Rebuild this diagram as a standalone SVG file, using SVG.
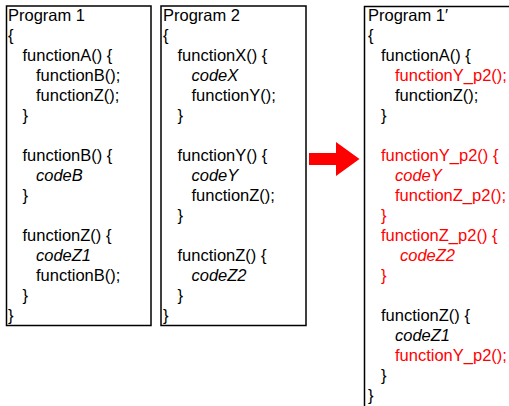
<svg xmlns="http://www.w3.org/2000/svg" width="509" height="406" viewBox="0 0 509 406">
<style>
.box{fill:#fff;stroke:#000;stroke-width:1.5}
text{font-family:"Liberation Sans",Arial,sans-serif;font-size:16.5px;fill:#000}
.i{font-style:italic}
.r{fill:#f00}
</style>
<rect width="509" height="406" fill="#fff"/>
<g id="program1">
<rect class="box" x="6.5" y="6" width="144.5" height="319.5"/>
<text x="8" y="21">Program 1</text>
<text x="8" y="41">{</text>
<text x="22.5" y="61">functionA() {</text>
<text x="36" y="81">functionB();</text>
<text x="36" y="101">functionZ();</text>
<text x="22.5" y="121">}</text>
<text x="22.5" y="161">functionB() {</text>
<text x="36" y="181" class="i">codeB</text>
<text x="22.5" y="201">}</text>
<text x="22.5" y="241">functionZ() {</text>
<text x="36" y="261" class="i">codeZ1</text>
<text x="36" y="281">functionB();</text>
<text x="22.5" y="301">}</text>
<text x="8" y="321">}</text>
</g>
<g id="program2">
<rect class="box" x="161" y="6" width="145" height="319.5"/>
<text x="163" y="21">Program 2</text>
<text x="163" y="41">{</text>
<text x="177.5" y="61">functionX() {</text>
<text x="191.5" y="81" class="i">codeX</text>
<text x="191.5" y="101">functionY();</text>
<text x="177.5" y="121">}</text>
<text x="177.5" y="161">functionY() {</text>
<text x="191.5" y="181" class="i">codeY</text>
<text x="191.5" y="201">functionZ();</text>
<text x="177.5" y="221">}</text>
<text x="177.5" y="261">functionZ() {</text>
<text x="191.5" y="281" class="i">codeZ2</text>
<text x="177.5" y="301">}</text>
<text x="163" y="321">}</text>
</g>
<g id="connectors">
<polygon points="309,153 336,153 336,142 359.5,159 336,176 336,165 309,165" fill="#f00"/>
</g>
<g id="program1prime">
<rect class="box" x="364.5" y="6.5" width="200" height="450"/>
<text x="368" y="21">Program 1′</text>
<text x="368" y="41">{</text>
<text x="381" y="61">functionA() {</text>
<text x="395" y="81" class="r">functionY_p2();</text>
<text x="395" y="101">functionZ();</text>
<text x="381" y="121">}</text>
<text x="381" y="161" class="r">functionY_p2() {</text>
<text x="395" y="181" class="i r">codeY</text>
<text x="395" y="201" class="r">functionZ_p2();</text>
<text x="381" y="221" class="r">}</text>
<text x="381" y="241" class="r">functionZ_p2() {</text>
<text x="400" y="261" class="i r">codeZ2</text>
<text x="381" y="281" class="r">}</text>
<text x="381" y="321">functionZ() {</text>
<text x="395" y="341" class="i">codeZ1</text>
<text x="395" y="361" class="r">functionY_p2();</text>
<text x="381" y="381">}</text>
<text x="368" y="401">}</text>
</g>
</svg>
